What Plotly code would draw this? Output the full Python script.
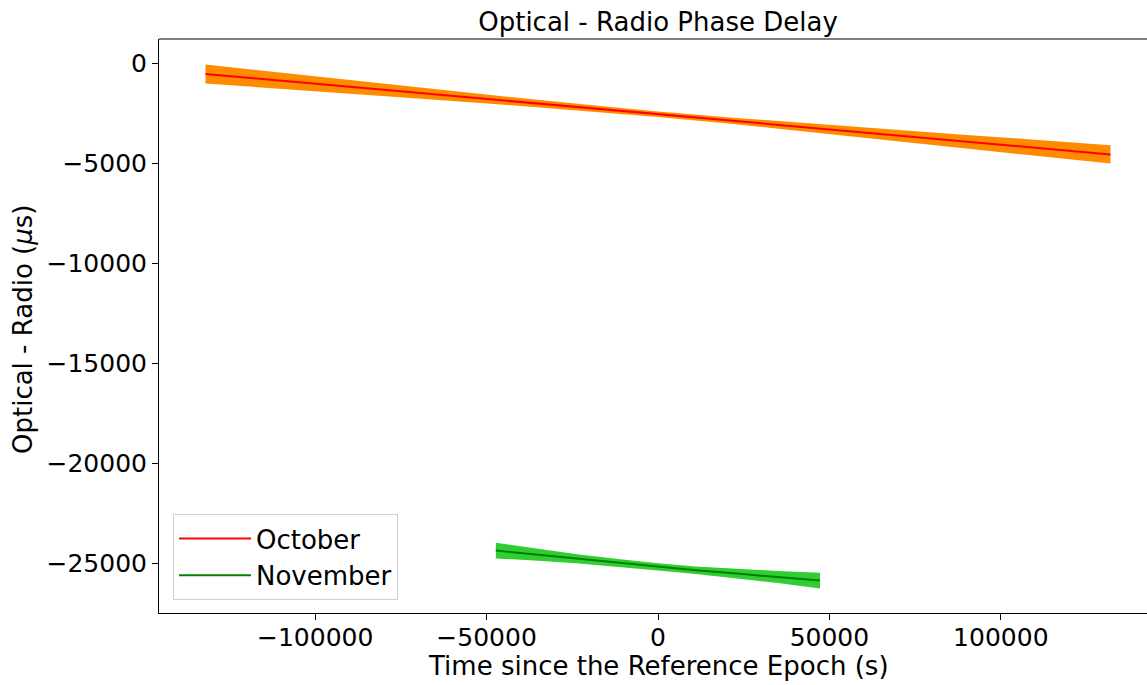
import plotly.graph_objects as go

# October fit
oct_x = [-132000, -110000, -88000, -66000, -44000, -22000, 0, 22000, 44000, 66000, 88000, 110000, 132000]
oct_line = [-550, -885, -1220, -1555, -1890, -2225, -2560, -2895, -3230, -3565, -3900, -4235, -4570]
oct_upper = [-75, -485, -890, -1290, -1685, -2065, -2420, -2735, -3025, -3300, -3570, -3835, -4110]
oct_lower = [-1025, -1285, -1550, -1820, -2095, -2385, -2700, -3055, -3435, -3830, -4230, -4635, -5030]

# November fit
nov_x = [-47300, -35000, -23000, -11000, 0, 11000, 23000, 35000, 47260]
nov_line = [-24380, -24590, -24800, -25000, -25190, -25360, -25530, -25700, -25880]
nov_upper = [-23990, -24290, -24570, -24810, -25010, -25170, -25300, -25400, -25490]
nov_lower = [-24770, -24890, -25030, -25190, -25370, -25550, -25760, -26000, -26270]

x_ticks = [-100000, -50000, 0, 50000, 100000]
y_ticks = [0, -5000, -10000, -15000, -20000, -25000]

def lab(v):
    return ("\u2212" + str(abs(v))) if v < 0 else str(v)

FONT = "DejaVu Sans"
fig = go.Figure()

# bands
fig.add_trace(go.Scatter(x=oct_x + oct_x[::-1], y=oct_upper + oct_lower[::-1],
                         fill="toself", fillcolor="#ff8c00", mode="lines",
                         line=dict(width=0, color="#ff8c00"), showlegend=False, hoverinfo="skip"))
fig.add_trace(go.Scatter(x=nov_x + nov_x[::-1], y=nov_upper + nov_lower[::-1],
                         fill="toself", fillcolor="#32cd32", mode="lines",
                         line=dict(width=0, color="#32cd32"), showlegend=False, hoverinfo="skip"))
# lines
fig.add_trace(go.Scatter(x=oct_x, y=oct_line, mode="lines", name="October",
                         line=dict(color="#ff0000", width=2)))
fig.add_trace(go.Scatter(x=nov_x, y=nov_line, mode="lines", name="November",
                         line=dict(color="#008000", width=2)))

fig.update_layout(
    width=1147, height=685,
    margin=dict(l=159, r=0, t=39, b=72),
    paper_bgcolor="white", plot_bgcolor="white",
    font=dict(family=FONT, size=25, color="black"),
    showlegend=True,
    legend=dict(x=(173 - 159) / 988, y=(613 - 600) / 574, xanchor="left", yanchor="bottom",
                bgcolor="white", bordercolor="#d0d0d0", borderwidth=1,
                font=dict(family=FONT, size=26, color="black"),
                itemwidth=72, tracegroupgap=0),
    title=dict(text="Optical - Radio Phase Delay", x=658 / 1147, xref="container", xanchor="center",
               y=1 - 22 / 685, yref="container", yanchor="middle",
               font=dict(family=FONT, size=26, color="black")),
)

fig.update_xaxes(range=[-145560, 142640], tickvals=x_ticks, ticktext=[lab(v) for v in x_ticks],
                 showgrid=False, zeroline=False, showline=True, linecolor="black", linewidth=1,
                 ticks="outside", ticklen=6, tickwidth=1, tickcolor="black", ticklabelstandoff=-4,
                 tickfont=dict(family=FONT, size=25, color="black"))
fig.update_yaxes(range=[-27500, 1200], tickvals=y_ticks, ticktext=[lab(v) for v in y_ticks],
                 showgrid=False, zeroline=False, showline=True, linecolor="black", linewidth=1,
                 ticks="outside", ticklen=6, tickwidth=1, tickcolor="black",
                 tickfont=dict(family=FONT, size=25, color="black"))

# top spine
fig.add_shape(type="line", xref="paper", yref="paper", x0=0, x1=1, y0=1, y1=1,
              line=dict(color="black", width=1))

# axis titles
fig.add_annotation(text="Time since the Reference Epoch (s)", xref="paper", yref="paper",
                   x=(658 - 159) / 988, y=-(666 - 613) / 574, xanchor="center", yanchor="middle",
                   showarrow=False, font=dict(family=FONT, size=26, color="black"))
fig.add_annotation(text="Optical - Radio (<i>\u03bc</i>s)", xref="paper", yref="paper",
                   x=-(159 - 23) / 988, y=(613 - 330) / 574, xanchor="center", yanchor="middle",
                   textangle=-90, showarrow=False, font=dict(family=FONT, size=26, color="black"))

fig.write_html("out.html")
